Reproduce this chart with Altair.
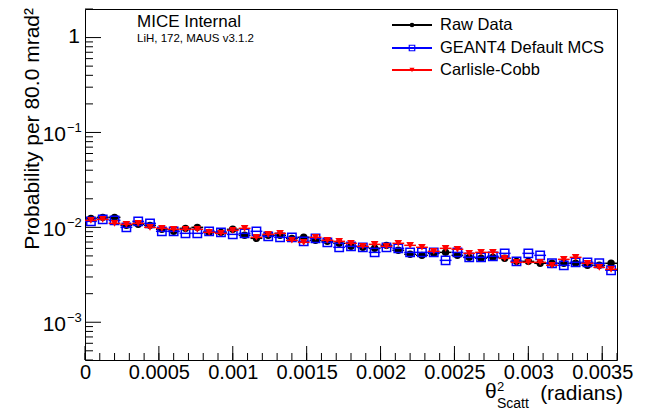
import altair as alt
import pandas as pd

FONT = "Liberation Sans"

# Histogram binning of theta^2 (radians)
bin_width = 0.00008
n_bins = 45
theta2 = [(i + 0.5) * bin_width for i in range(n_bins)]

# Probability per bin for each sample
raw_data = [
    0.01244, 0.01274, 0.01274, 0.01050, 0.01075, 0.01050, 0.00953, 0.00908, 0.00976, 0.01000,
    0.00886, 0.00886, 0.00953, 0.00824, 0.00766, 0.00824, 0.00824, 0.00766, 0.00785, 0.00730,
    0.00712, 0.00679, 0.00631, 0.00616, 0.00601, 0.00646, 0.00573, 0.00520, 0.00507, 0.00532,
    0.00545, 0.00507, 0.00483, 0.00472, 0.00483, 0.00472, 0.00438, 0.00438, 0.00418, 0.00418,
    0.00418, 0.00418, 0.00398, 0.00398, 0.00418,
]
geant4_mcs = [
    0.01156, 0.01214, 0.01185, 0.01000, 0.01156, 0.01102, 0.00908, 0.00908, 0.00865, 0.00865,
    0.00908, 0.00886, 0.00844, 0.00865, 0.00908, 0.00804, 0.00785, 0.00785, 0.00712, 0.00766,
    0.00695, 0.00616, 0.00631, 0.00616, 0.00545, 0.00616, 0.00601, 0.00545, 0.00545, 0.00545,
    0.00449, 0.00545, 0.00483, 0.00483, 0.00495, 0.00532, 0.00438, 0.00532, 0.00507, 0.00418,
    0.00398, 0.00428, 0.00428, 0.00418, 0.00353,
]
carlisle_cobb = [
    0.01185, 0.01214, 0.01102, 0.01075, 0.01102, 0.01000, 0.00976, 0.00953, 0.00953, 0.00953,
    0.00886, 0.00865, 0.00930, 0.00976, 0.00785, 0.00844, 0.00865, 0.00730, 0.00695, 0.00785,
    0.00730, 0.00712, 0.00679, 0.00631, 0.00662, 0.00631, 0.00679, 0.00646, 0.00616, 0.00559,
    0.00601, 0.00587, 0.00532, 0.00545, 0.00545, 0.00472, 0.00428, 0.00428, 0.00428, 0.00398,
    0.00460, 0.00483, 0.00418, 0.00379, 0.00361,
]

series_names = ["Raw Data", "GEANT4 Default MCS", "Carlisle-Cobb"]
series_values = [raw_data, geant4_mcs, carlisle_cobb]
series_colors = ["#000000", "#0000ff", "#ff0000"]
series_shapes = ["circle", "square", "triangle-down"]
series_filled = [True, False, True]
series_sizes = [55, 70, 58]
legend_sizes = [22, 30, 26]

x_major = [0, 0.0005, 0.001, 0.0015, 0.002, 0.0025, 0.003, 0.0035]
x_minor = [i * 0.0001 for i in range(37)]
y_major = [1.0, 0.1, 0.01, 0.001]
y_minor = [k * 10.0 ** d for d in (-4, -3, -2, -1, 0) for k in range(2, 10)
           if 4e-4 <= k * 10.0 ** d <= 2]

W, H = 532, 351

xs = alt.Scale(domain=[0, 0.0036], nice=False, zero=False)
ys = alt.Scale(type="log", domain=[4e-4, 2], nice=False)
xaxis = alt.Axis(values=x_major, format="~g", labelFont=FONT, labelFontSize=20,
                 labelColor="black", labelPadding=2, ticks=False, domain=False,
                 grid=False, title=None, labelFlush=False, labelOverlap=False)


def text_at(text, x, y, size, align="left", baseline="alphabetic", angle=0):
    return alt.Chart(pd.DataFrame({"t": [text]})).mark_text(
        align=align, baseline=baseline, font=FONT, fontSize=size,
        color="black", angle=angle
    ).encode(text="t:N", x=alt.value(x), y=alt.value(y))


layers = []

# Inward ticks on the bottom and left axes
layers.append(alt.Chart(pd.DataFrame({"v": x_minor})).mark_rule(color="black", strokeWidth=1).encode(
    x=alt.X("v:Q", scale=xs, axis=xaxis), y=alt.value(H), y2=alt.value(H - 7)))
layers.append(alt.Chart(pd.DataFrame({"v": x_major})).mark_rule(color="black", strokeWidth=1).encode(
    x=alt.X("v:Q", scale=xs, axis=xaxis), y=alt.value(H), y2=alt.value(H - 14)))
layers.append(alt.Chart(pd.DataFrame({"v": y_minor})).mark_rule(color="black", strokeWidth=1).encode(
    y=alt.Y("v:Q", scale=ys, axis=None), x=alt.value(0), x2=alt.value(8)))
layers.append(alt.Chart(pd.DataFrame({"v": y_major})).mark_rule(color="black", strokeWidth=1).encode(
    y=alt.Y("v:Q", scale=ys, axis=None), x=alt.value(0), x2=alt.value(16)))

# Data series: horizontal bin-width bars plus markers
for name, vals, col, shp, fill, sz in zip(series_names, series_values, series_colors,
                                          series_shapes, series_filled, series_sizes):
    df = pd.DataFrame({
        "theta2": theta2,
        "lo": [t - bin_width / 2 for t in theta2],
        "hi": [t + bin_width / 2 for t in theta2],
        "prob": vals,
        "series": name,
    })
    base = alt.Chart(df)
    layers.append(base.mark_rule(color=col, strokeWidth=1.5).encode(
        x=alt.X("lo:Q", scale=xs, axis=xaxis), x2="hi:Q",
        y=alt.Y("prob:Q", scale=ys, axis=None)))
    layers.append(base.mark_point(shape=shp, filled=fill, size=sz, color=col,
                                  strokeWidth=1.5, opacity=1).encode(
        x=alt.X("theta2:Q", scale=xs, axis=xaxis),
        y=alt.Y("prob:Q", scale=ys, axis=None),
        tooltip=["series:N", "theta2:Q", "prob:Q"]))

# Y tick labels with exponents
layers.append(alt.Chart(pd.DataFrame({"v": [1.0], "t": ["1"]})).mark_text(
    align="right", baseline="middle", font=FONT, fontSize=21, color="black", dy=-1
).encode(y=alt.Y("v:Q", scale=ys, axis=None), x=alt.value(-5), text="t:N"))
ypow = pd.DataFrame({"v": [0.1, 0.01, 0.001], "base": ["10", "10", "10"],
                     "exp": ["\u22121", "\u22122", "\u22123"]})
layers.append(alt.Chart(ypow).mark_text(
    align="right", baseline="middle", font=FONT, fontSize=21, color="black", dy=3
).encode(y=alt.Y("v:Q", scale=ys, axis=None), x=alt.value(-19), text="base:N"))
layers.append(alt.Chart(ypow).mark_text(
    align="left", baseline="middle", font=FONT, fontSize=13, color="black", dy=-4
).encode(y=alt.Y("v:Q", scale=ys, axis=None), x=alt.value(-18), text="exp:N"))

# Axis titles
layers.append(text_at("Probability per 80.0 mrad\u00b2", -46, -1, 21, align="right", angle=270))
layers.append(text_at("\u03b8", 400, 389, 21))
layers.append(text_at("2", 412, 382, 13))
layers.append(text_at("Scatt", 412, 399, 14))
layers.append(text_at("(radians)", 538, 391, 21, align="right"))

# Experiment labels
layers.append(text_at("MICE Internal", 52, 18, 17))
layers.append(text_at("LiH, 172, MAUS v3.1.2", 52, 33, 11.5))

# Legend
legend_rows = [16, 39, 61]
for name, col, shp, fill, sz, row in zip(series_names, series_colors, series_shapes,
                                         series_filled, legend_sizes, legend_rows):
    one = alt.Chart(pd.DataFrame({"s": [name]}))
    layers.append(one.mark_rule(color=col, strokeWidth=2).encode(
        x=alt.value(307), x2=alt.value(347), y=alt.value(row)))
    layers.append(one.mark_point(shape=shp, filled=fill, size=sz, color=col,
                                 strokeWidth=1.2, opacity=1).encode(
        x=alt.value(327), y=alt.value(row)))
    layers.append(one.mark_text(align="left", baseline="middle", font=FONT,
                                fontSize=16.5, color="black").encode(
        x=alt.value(355), y=alt.value(row), text="s:N"))

chart = alt.layer(*layers).properties(
    width=W, height=H,
    padding={"left": 85, "top": 9, "right": 28, "bottom": 51},
    autosize=alt.AutoSizeParams(type="none"),
    background="white",
).configure_view(stroke="black", strokeWidth=1)

chart.save("out.html", embed_options={"renderer": "svg", "actions": False})
